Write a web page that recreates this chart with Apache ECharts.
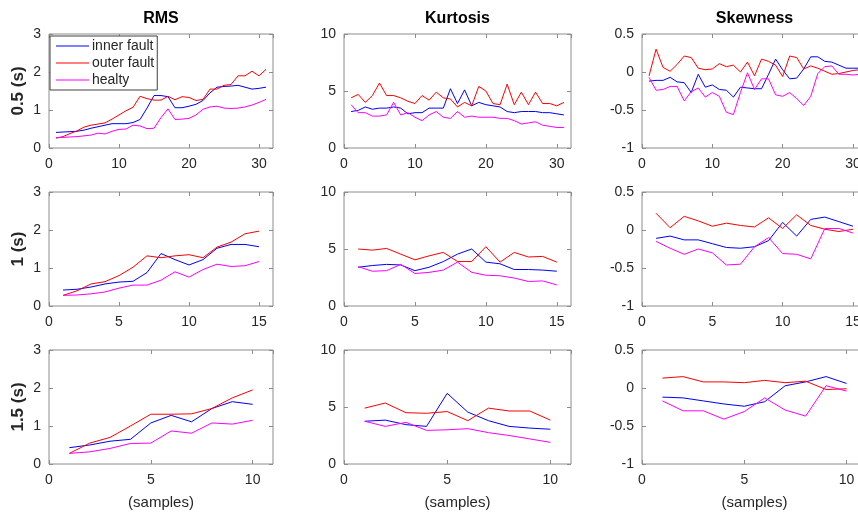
<!DOCTYPE html>
<html><head><meta charset="utf-8">
<script src="https://cdn.jsdelivr.net/npm/echarts@6/dist/echarts.min.js"></script>
<style>html,body{margin:0;padding:0;background:#fff}#c{width:858px;height:514px}</style>
</head><body><div id="c"></div>
<script>
const colTitles = ['RMS', 'Kurtosis', 'Skewness'];
const rowLabels = ['0.5 (s)', '1 (s)', '1.5 (s)'];
const seriesNames = ['inner fault', 'outer fault', 'healty'];
const xLabel = '(samples)';
const xMaxByRow = [32, 16, 11];
const xStepByRow = [10, 5, 5];
const yMinByCol = [0, 0, -1];
const yMaxByCol = [3, 10, 0.5];
const yStepByCol = [1, 5, 0.5];

// Row 0.5 s
const rms05_inner = [0.41,0.42,0.43,0.44,0.47,0.52,0.56,0.60,0.64,0.64,0.64,0.67,0.75,1.05,1.38,1.38,1.35,1.06,1.06,1.10,1.15,1.25,1.45,1.60,1.62,1.63,1.65,1.60,1.55,1.57,1.60];
const rms05_outer = [0.26,0.30,0.38,0.45,0.55,0.60,0.63,0.66,0.76,0.87,0.98,1.07,1.36,1.30,1.26,1.26,1.36,1.27,1.35,1.33,1.25,1.28,1.55,1.55,1.65,1.67,1.90,1.90,2.02,1.90,2.07];
const rms05_healthy = [0.27,0.28,0.29,0.30,0.32,0.34,0.39,0.37,0.44,0.49,0.50,0.60,0.58,0.51,0.52,0.80,1.03,0.75,0.76,0.78,0.87,1.02,1.08,1.10,1.05,1.04,1.05,1.08,1.13,1.20,1.28];
const kurt05_inner = [3.2,3.3,3.6,3.4,3.5,3.5,3.6,3.5,3.0,3.1,3.1,3.5,3.5,3.5,5.2,3.9,5.1,3.7,4.0,3.8,3.7,3.6,3.2,3.1,3.2,3.2,3.2,3.1,3.1,3.0,2.9];
const kurt05_outer = [4.4,4.7,4.0,4.6,5.7,4.6,4.6,4.4,4.1,3.9,4.6,4.2,4.9,4.4,4.3,3.6,4.0,3.7,5.4,5.0,3.9,3.8,5.6,3.8,4.9,3.8,4.9,3.9,3.9,3.7,4.0];
const kurt05_healthy = [3.8,3.1,3.1,2.8,2.8,2.9,4.0,2.9,3.1,2.7,2.4,2.9,3.2,2.7,2.6,3.2,2.7,2.8,2.7,2.7,2.7,2.6,2.6,2.4,2.1,2.2,2.3,2.0,1.9,1.8,1.8];
const skew05_inner = [-0.12,-0.11,-0.11,-0.07,-0.13,-0.14,-0.27,-0.03,-0.20,-0.17,-0.23,-0.24,-0.33,-0.20,-0.21,-0.22,-0.22,-0.03,0.17,0.03,-0.09,-0.08,0.04,0.20,0.20,0.14,0.13,0.09,0.05,0.05,0.05];
const skew05_outer = [-0.05,0.30,0.06,0.01,0.10,0.21,0.19,0.05,0.03,0.04,0.11,0.07,0.09,0.00,0.13,-0.05,0.17,0.14,0.09,-0.06,0.21,0.19,0.04,0.08,0.05,0.01,-0.03,-0.02,0.00,0.02,0.03];
const skew05_healthy = [-0.07,-0.24,-0.23,-0.19,-0.19,-0.38,-0.26,-0.21,-0.33,-0.27,-0.32,-0.53,-0.56,-0.27,-0.01,-0.23,-0.09,-0.09,-0.30,-0.32,-0.27,-0.35,-0.44,-0.32,-0.02,0.07,0.08,-0.03,-0.03,-0.04,-0.03];

// Row 1 s
const rms1_inner = [0.42,0.44,0.50,0.58,0.63,0.65,0.88,1.38,1.22,1.08,1.22,1.52,1.62,1.62,1.56];
const rms1_outer = [0.28,0.40,0.58,0.64,0.80,1.02,1.32,1.27,1.32,1.35,1.27,1.55,1.68,1.90,1.97];
const rms1_healthy = [0.28,0.29,0.32,0.37,0.47,0.55,0.55,0.68,0.90,0.76,0.96,1.10,1.04,1.06,1.17];
const kurt1_inner = [3.4,3.55,3.65,3.6,3.1,3.4,3.9,4.55,5.0,3.85,3.7,3.2,3.2,3.15,3.05];
const kurt1_outer = [5.0,4.9,5.05,4.55,4.05,4.4,4.7,3.9,3.9,5.2,3.85,4.7,4.3,4.35,3.85];
const kurt1_healthy = [3.45,3.05,3.1,3.65,2.85,2.95,3.15,3.85,2.95,2.7,2.65,2.45,2.15,2.2,1.85];
const skew1_inner = [-0.11,-0.08,-0.13,-0.13,-0.18,-0.23,-0.24,-0.22,-0.14,0.10,-0.08,0.14,0.17,0.11,0.05];
const skew1_outer = [0.22,0.03,0.18,0.12,0.05,0.09,0.06,0.04,0.16,0.02,0.20,0.06,0.01,-0.02,0.01];
const skew1_healthy = [-0.15,-0.24,-0.32,-0.25,-0.30,-0.46,-0.45,-0.22,-0.10,-0.31,-0.32,-0.38,0.02,0.02,-0.04];

// Row 1.5 s
const rms15_inner = [0.43,0.50,0.60,0.65,1.08,1.28,1.11,1.46,1.64,1.57];
const rms15_outer = [0.28,0.55,0.70,1.00,1.31,1.31,1.32,1.46,1.74,1.95];
const rms15_healthy = [0.28,0.32,0.41,0.54,0.55,0.87,0.81,1.08,1.05,1.15];
const kurt15_inner = [3.75,3.85,3.45,3.3,6.2,4.55,3.8,3.3,3.15,3.05];
const kurt15_outer = [4.9,5.35,4.5,4.45,4.6,3.8,4.9,4.65,4.65,3.85];
const kurt15_healthy = [3.75,3.3,3.65,2.95,3.0,3.1,2.75,2.5,2.2,1.9];
const skew15_inner = [-0.12,-0.13,-0.17,-0.21,-0.24,-0.18,0.03,0.08,0.15,0.06];
const skew15_outer = [0.13,0.15,0.08,0.08,0.07,0.10,0.07,0.09,-0.02,-0.01];
const skew15_healthy = [-0.17,-0.30,-0.30,-0.41,-0.31,-0.13,-0.29,-0.37,0.03,-0.04];

const panels = [
  [[rms05_inner, rms05_outer, rms05_healthy], [kurt05_inner, kurt05_outer, kurt05_healthy], [skew05_inner, skew05_outer, skew05_healthy]],
  [[rms1_inner, rms1_outer, rms1_healthy], [kurt1_inner, kurt1_outer, kurt1_healthy], [skew1_inner, skew1_outer, skew1_healthy]],
  [[rms15_inner, rms15_outer, rms15_healthy], [kurt15_inner, kurt15_outer, kurt15_healthy], [skew15_inner, skew15_outer, skew15_healthy]]
];

const colors = ['#0000ff', '#ff0000', '#ff00ff'];
const FONT = '"Liberation Sans", Arial, Helvetica, sans-serif';
const lefts = [49, 344, 642];
const widths = [224, 227, 225];
const tops = [34, 192, 350];
const H = 114;
const boxColor = '#8c8c8c';
const textColor = '#262626';

const grids = [], xAxes = [], yAxes = [], series = [], titles = [];
let gi = 0;
for (let r = 0; r < 3; r++) {
  for (let c = 0; c < 3; c++) {
    grids.push({left: lefts[c], width: widths[c], top: tops[r], height: H,
      outerBoundsMode: 'none', containLabel: false,
      show: true, borderColor: boxColor, borderWidth: 1, backgroundColor: 'transparent'});
    const xCommon = {type: 'value', gridIndex: gi, min: 0, max: xMaxByRow[r], interval: xStepByRow[r],
      splitLine: {show: false}, axisLine: {show: false, onZero: false},
      axisTick: {show: true, inside: true, length: 4, lineStyle: {color: boxColor}}};
    xAxes.push(Object.assign({}, xCommon, {position: 'bottom',
      axisLabel: {show: true, showMaxLabel: xMaxByRow[r] % xStepByRow[r] === 0, color: textColor, fontFamily: FONT, fontSize: 14, margin: 9},
      name: r === 2 ? xLabel : '', nameLocation: 'middle', nameGap: 31,
      nameTextStyle: {color: textColor, fontFamily: FONT, fontSize: 15}}));
    xAxes.push(Object.assign({}, xCommon, {position: 'top', axisLabel: {show: false}}));
    const yCommon = {type: 'value', gridIndex: gi, min: yMinByCol[c], max: yMaxByCol[c], interval: yStepByCol[c],
      splitLine: {show: false}, axisLine: {show: false, onZero: false},
      axisTick: {show: true, inside: true, length: 4, lineStyle: {color: boxColor}}};
    yAxes.push(Object.assign({}, yCommon, {position: 'left',
      axisLabel: {show: true, color: textColor, fontFamily: FONT, fontSize: 14, margin: 8},
      name: c === 0 ? rowLabels[r] : '', nameLocation: 'middle', nameGap: 22, nameRotate: 90,
      nameTextStyle: {color: textColor, fontFamily: FONT, fontSize: 17, fontWeight: 'bold'}}));
    yAxes.push(Object.assign({}, yCommon, {position: 'right', axisLabel: {show: false}}));
    const set = panels[r][c];
    for (let s = 0; s < 3; s++) {
      series.push({type: 'line', name: seriesNames[s], xAxisIndex: gi * 2, yAxisIndex: gi * 2,
        data: set[s].map((v, i) => [i + 1, v]), symbol: 'none', showSymbol: false,
        lineStyle: {color: colors[s], width: 1}, itemStyle: {color: colors[s]},
        animation: false, silent: true});
    }
    gi++;
  }
}
const colCenters = [49 + 224 / 2, 344 + 227 / 2, 642 + 225 / 2];
for (let c = 0; c < 3; c++) {
  titles.push({text: colTitles[c], left: colCenters[c], top: 11, textAlign: 'center', padding: 0,
    textStyle: {fontFamily: FONT, fontSize: 16, fontWeight: 'bold', color: '#000'}});
}

const chart = echarts.init(document.getElementById('c'), null, {renderer: 'canvas'});
chart.setOption({
  animation: false,
  backgroundColor: '#ffffff',
  title: titles,
  grid: grids,
  xAxis: xAxes,
  yAxis: yAxes,
  legend: {data: seriesNames, orient: 'vertical', left: 50, top: 36,
    backgroundColor: '#fff', borderColor: '#404040', borderWidth: 1, padding: [3, 3, 3, 6],
    itemGap: 3, itemWidth: 33, itemHeight: 14, selectedMode: false,
    icon: 'path://M0,7 L33,7 L33,8 L0,8 Z',
    textStyle: {fontFamily: FONT, fontSize: 14, color: textColor, padding: [0, 0, 0, -2]}},
  series: series
});
</script></body></html>
